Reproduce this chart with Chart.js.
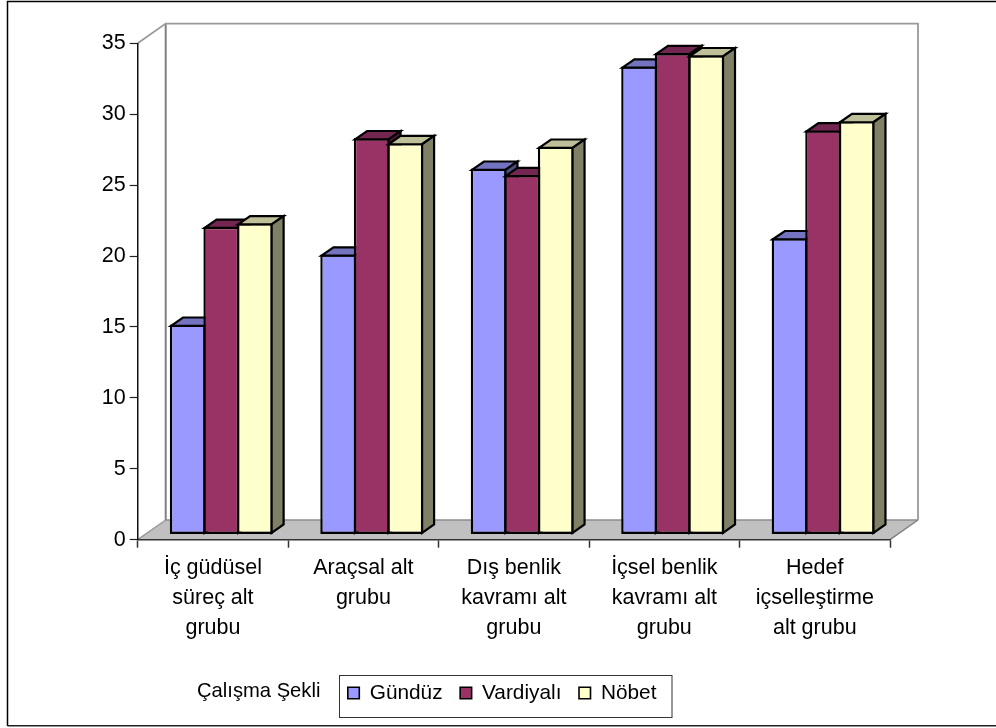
<!DOCTYPE html>
<html lang="tr">
<head>
<meta charset="utf-8">
<title>Çalışma Şekli</title>
<script src="https://cdn.jsdelivr.net/npm/chart.js@4"></script>
<style>
    html, body { margin: 0; padding: 0; background: #fff; overflow: hidden; }
    canvas { display: block; }
</style>
</head>
<body>
<canvas id="barChart" width="996" height="728"></canvas>
<script>
const categories = [
    ['İç güdüsel', 'süreç alt', 'grubu'],
    ['Araçsal alt', 'grubu'],
    ['Dış benlik', 'kavramı alt', 'grubu'],
    ['İçsel benlik', 'kavramı alt', 'grubu'],
    ['Hedef', 'içselleştirme', 'alt grubu']
];
const gunduz = [14.8, 19.75, 25.8, 33.0, 20.9];
const vardiyali = [21.7, 27.95, 25.35, 33.95, 28.5];
const nobet = [21.95, 27.6, 27.35, 33.8, 29.15];
const legendTitle = 'Çalışma Şekli';

const fontFamily = '"Liberation Sans", Arial, sans-serif';
const fontSize = 21.5;

// how far the floor and walls recede, and how deep a bar is
const wallDepth = { x: 28, y: -19.7 };
const barShift = { x: 8.4, y: -5.2 };
const barDepth = { x: 12, y: -8.3 };

function polygon(ctx, points, fill, stroke, width) {
    ctx.beginPath();
    points.forEach((p, i) => i ? ctx.lineTo(p[0], p[1]) : ctx.moveTo(p[0], p[1]));
    if (fill) {
        ctx.closePath();
        ctx.fillStyle = fill;
        ctx.fill();
    }
    if (stroke) {
        ctx.strokeStyle = stroke;
        ctx.lineWidth = width;
        ctx.lineJoin = 'miter';
        ctx.stroke();
    }
}

// walls, floor, page frame and legend box
const framePlugin = {
    id: 'frame',
    beforeDraw(chart) {
        const ctx = chart.ctx;
        const a = chart.chartArea;
        const dx = wallDepth.x, dy = wallDepth.y;
        ctx.save();
        ctx.fillStyle = '#fff';
        ctx.fillRect(0, 0, chart.width, chart.height);

        polygon(ctx, [[7.5, 726], [7.5, 1.5], [996, 1.5]], null, '#000', 1.5);
        polygon(ctx, [[7.5, 725.7], [996, 725.7]], null, '#222', 1.5);

        polygon(ctx, [[a.left, a.bottom], [a.left + dx, a.bottom + dy], [a.right + dx, a.bottom + dy], [a.right, a.bottom]],
            '#c0c0c0', null);
        polygon(ctx, [[a.left, a.bottom], [a.left + dx, a.bottom + dy]], null, '#999', 1.5);
        polygon(ctx, [[a.left + dx, a.bottom + dy], [a.right + dx, a.bottom + dy]], null, '#8c8c8c', 1.5);
        polygon(ctx, [[a.right, a.bottom], [a.right + dx, a.bottom + dy]], null, '#808080', 1.5);

        polygon(ctx, [[a.left + dx, a.bottom + dy], [a.left + dx, a.top + dy]], null, '#808080', 2);
        polygon(ctx, [[a.left, a.top], [a.left + dx, a.top + dy], [a.right + dx, a.top + dy], [a.right + dx, a.bottom + dy]],
            null, '#999', 1.8);
        ctx.restore();
    },
    afterDraw(chart) {
        const ctx = chart.ctx;
        ctx.save();
        ctx.strokeStyle = '#333';
        ctx.lineWidth = 1;
        ctx.strokeRect(339.5, 675.5, 332.5, 42);
        ctx.fillStyle = '#000';
        ctx.font = '20.2px ' + fontFamily;
        ctx.textBaseline = 'middle';
        ctx.fillText(legendTitle, 197, 691);
        ctx.restore();
    }
};

// moves the legend into its box once the layout is done
const legendPlugin = {
    id: 'legendSpot',
    afterLayout(chart) {
        const legend = chart.legend;
        legend.left = 330.2;
        legend.right = 680;
        legend.top = 665;
    }
};

// bars are painted left to right, each with a top and a side face
const bars3dPlugin = {
    id: 'bars3d',
    beforeDatasetsDraw(chart) {
        const ctx = chart.ctx;
        ctx.save();
        ctx.translate(barShift.x, barShift.y);
        chart.data.labels.forEach((label, index) => {
            chart.data.datasets.forEach((dataset, d) => {
                const bar = chart.getDatasetMeta(d).data[index];
                const x0 = bar.x - bar.width / 2 + 1.2;
                const x1 = bar.x + bar.width / 2 - 1.2;
                const y0 = bar.y + 1.2;
                const y1 = bar.base - 1.2;
                const dx = barDepth.x, dy = barDepth.y;
                bar.draw(ctx);
                polygon(ctx, [[x0, y0], [x0 + dx, y0 + dy], [x1 + dx, y0 + dy], [x1, y0]],
                    dataset.topColor, '#000', 2.2);
                polygon(ctx, [[x1, y0], [x1 + dx, y0 + dy], [x1 + dx, y1 + dy], [x1, y1]],
                    dataset.sideColor, '#000', 2.2);
            });
        });
        ctx.restore();
        return false;
    }
};

function series(label, data, color, topColor, sideColor) {
    return {
        label: label,
        data: data,
        backgroundColor: color,
        topColor: topColor,
        sideColor: sideColor,
        borderColor: '#000',
        borderWidth: 2.4,
        borderSkipped: false,
        inflateAmount: 0,
        categoryPercentage: 0.669,
        barPercentage: 1.07
    };
}

new Chart(document.getElementById('barChart').getContext('2d'), {
    type: 'bar',
    data: {
        labels: categories,
        datasets: [
            series('Gündüz', gunduz, '#9999ff', '#7373bf', '#4d4d80'),
            series('Vardiyalı', vardiyali, '#993366', '#732650', '#4d1a33'),
            series('Nöbet', nobet, '#ffffcc', '#bfbf99', '#808066')
        ]
    },
    plugins: [framePlugin, legendPlugin, bars3dPlugin],
    options: {
        responsive: false,
        animation: false,
        layout: { padding: { left: 60, right: 106, top: 43.3, bottom: 0 } },
        scales: {
            x: {
                grid: { offset: true, drawOnChartArea: false, tickLength: 8, tickColor: '#333', tickWidth: 1.5 },
                border: { color: '#333', width: 1.5 },
                ticks: {
                    color: '#000',
                    autoSkip: false,
                    maxRotation: 0,
                    padding: 5,
                    font: { family: fontFamily, size: fontSize, lineHeight: 30 / fontSize }
                },
                afterFit(scale) {
                    scale.height = scale.chart.height - scale.chart.legend.height - 539.7;
                }
            },
            y: {
                min: 0,
                max: 35,
                grid: { drawOnChartArea: false, tickLength: 8, tickColor: '#222', tickWidth: 1.2 },
                border: { color: '#111', width: 1.5 },
                ticks: {
                    stepSize: 5,
                    color: '#000',
                    padding: 4,
                    font: { family: fontFamily, size: fontSize }
                },
                afterFit(scale) {
                    scale.width = 77.7;
                }
            }
        },
        plugins: {
            title: { display: false },
            tooltip: { enabled: false },
            legend: {
                position: 'bottom',
                align: 'start',
                labels: {
                    color: '#000',
                    boxWidth: 11.5,
                    boxHeight: 11.5,
                    padding: 17.6,
                    font: { family: fontFamily, size: 20.8 },
                    generateLabels(chart) {
                        return chart.data.datasets.map((dataset, i) => ({
                            text: dataset.label,
                            fillStyle: dataset.backgroundColor,
                            strokeStyle: '#000',
                            lineWidth: 1.6,
                            fontColor: '#000',
                            datasetIndex: i
                        }));
                    }
                }
            }
        }
    }
});
</script>
</body>
</html>
